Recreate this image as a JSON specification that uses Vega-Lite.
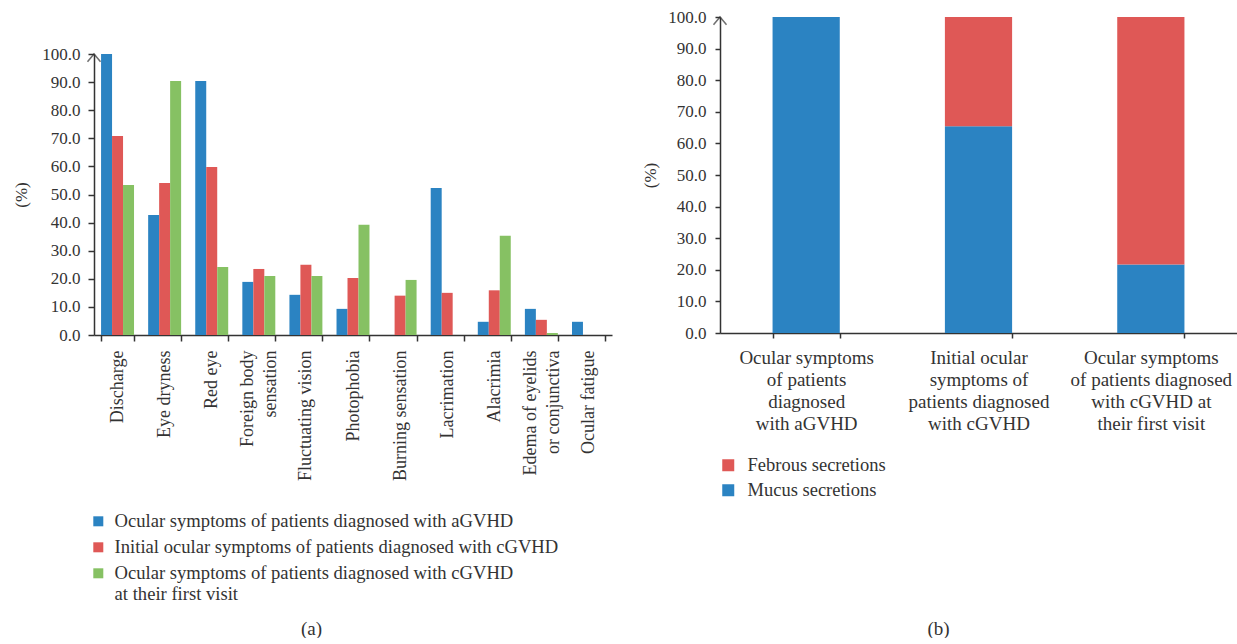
{
  "$schema": "https://vega.github.io/schema/vega-lite/v6.json",
  "autosize": {"type": "pad"},
  "padding": {"left": 12, "top": 8, "right": 0, "bottom": 0},
  "background": "white",
  "config": {
    "font": "Liberation Serif",
    "view": {"stroke": null},
    "axis": {
      "labelFont": "Liberation Serif",
      "titleFont": "Liberation Serif",
      "labelColor": "#333333",
      "titleColor": "#333333",
      "domainColor": "#333333",
      "tickColor": "#333333",
      "domainWidth": 1.5,
      "tickWidth": 1.5,
      "labelFontSize": 17,
      "titleFontSize": 17,
      "titleFontWeight": "normal",
      "labelOverlap": false,
      "grid": false
    },
    "legend": {
      "labelFont": "Liberation Serif",
      "labelColor": "#333333",
      "padding": 0,
      "offset": 0
    }
  },
  "resolve": {"scale": {"color": "independent"}, "legend": {"color": "independent"}},
  "spacing": 29,
  "hconcat": [
    {
      "bounds": "flush",
      "spacing": 0,
      "vconcat": [
        {
          "width": 518,
          "height": 37,
          "data": {"values": []},
          "mark": "text",
          "encoding": {}
        },
        {
          "width": 518,
          "height": 281,
          "data": {
            "values": [
              {"symptom": "Discharge", "group": "aGVHD", "value": 100},
              {"symptom": "Discharge", "group": "Initial cGVHD", "value": 70.8},
              {"symptom": "Discharge", "group": "cGVHD first visit", "value": 53.4},
              {"symptom": "Eye dryness", "group": "aGVHD", "value": 42.7},
              {"symptom": "Eye dryness", "group": "Initial cGVHD", "value": 54.1},
              {"symptom": "Eye dryness", "group": "cGVHD first visit", "value": 90.4},
              {"symptom": "Red eye", "group": "aGVHD", "value": 90.4},
              {"symptom": "Red eye", "group": "Initial cGVHD", "value": 59.8},
              {"symptom": "Red eye", "group": "cGVHD first visit", "value": 24.2},
              {"symptom": "Foreign body sensation", "group": "aGVHD", "value": 18.9},
              {"symptom": "Foreign body sensation", "group": "Initial cGVHD", "value": 23.5},
              {"symptom": "Foreign body sensation", "group": "cGVHD first visit", "value": 21.0},
              {"symptom": "Fluctuating vision", "group": "aGVHD", "value": 14.3},
              {"symptom": "Fluctuating vision", "group": "Initial cGVHD", "value": 25.0},
              {"symptom": "Fluctuating vision", "group": "cGVHD first visit", "value": 21.0},
              {"symptom": "Photophobia", "group": "aGVHD", "value": 9.3},
              {"symptom": "Photophobia", "group": "Initial cGVHD", "value": 20.3},
              {"symptom": "Photophobia", "group": "cGVHD first visit", "value": 39.2},
              {"symptom": "Burning sensation", "group": "aGVHD", "value": 0},
              {"symptom": "Burning sensation", "group": "Initial cGVHD", "value": 14.0},
              {"symptom": "Burning sensation", "group": "cGVHD first visit", "value": 19.6},
              {"symptom": "Lacrimation", "group": "aGVHD", "value": 52.3},
              {"symptom": "Lacrimation", "group": "Initial cGVHD", "value": 15.0},
              {"symptom": "Lacrimation", "group": "cGVHD first visit", "value": 0},
              {"symptom": "Alacrimia", "group": "aGVHD", "value": 4.7},
              {"symptom": "Alacrimia", "group": "Initial cGVHD", "value": 15.9},
              {"symptom": "Alacrimia", "group": "cGVHD first visit", "value": 35.3},
              {"symptom": "Edema of eyelids or conjunctiva", "group": "aGVHD", "value": 9.3},
              {"symptom": "Edema of eyelids or conjunctiva", "group": "Initial cGVHD", "value": 5.4},
              {"symptom": "Edema of eyelids or conjunctiva", "group": "cGVHD first visit", "value": 0.7},
              {"symptom": "Ocular fatigue", "group": "aGVHD", "value": 4.7},
              {"symptom": "Ocular fatigue", "group": "Initial cGVHD", "value": 0},
              {"symptom": "Ocular fatigue", "group": "cGVHD first visit", "value": 0}
            ]
          },
          "layer": [
            {
              "mark": {"type": "bar"},
              "encoding": {
                "x": {
                  "field": "symptom",
                  "type": "nominal",
                  "sort": ["Discharge", "Eye dryness", "Red eye", "Foreign body sensation", "Fluctuating vision", "Photophobia", "Burning sensation", "Lacrimation", "Alacrimia", "Edema of eyelids or conjunctiva", "Ocular fatigue"],
                  "scale": {"paddingInner": 0.3, "paddingOuter": 0.15},
                  "axis": {
                    "title": "(a)",
                    "titleX": 217,
                    "titleY": 293,
                    "titleAngle": 0,
                    "titleAlign": "center",
                    "titleBaseline": "middle",
                    "titleFontSize": 19,
                    "labelAngle": -90,
                    "labelFontSize": 18,
                    "labelLineHeight": 23,
                    "labelPadding": 9,
                    "labelOffset": {"condition": {"test": "datum.value == 'Foreign body sensation' || datum.value == 'Edema of eyelids or conjunctiva'", "value": -11}, "value": 0},
                    "tickSize": 6,
                    "tickBand": "extent",
                    "labelExpr": "datum.value == 'Foreign body sensation' ? ['Foreign body', 'sensation'] : datum.value == 'Edema of eyelids or conjunctiva' ? ['Edema of eyelids', 'or conjunctiva'] : datum.value"
                  }
                },
                "xOffset": {
                  "field": "group",
                  "type": "nominal",
                  "sort": ["aGVHD", "Initial cGVHD", "cGVHD first visit"],
                  "scale": {"paddingInner": 0, "paddingOuter": 0}
                },
                "y": {
                  "field": "value",
                  "type": "quantitative",
                  "scale": {"domain": [0, 100], "nice": false},
                  "axis": {
                    "title": "(%)",
                    "values": [0, 10, 20, 30, 40, 50, 60, 70, 80, 90, 100],
                    "format": ".1f",
                    "labelOverlap": false,
                    "tickSize": 6,
                    "labelPadding": 8,
                    "titlePadding": 11
                  }
                },
                "color": {
                  "field": "group",
                  "type": "nominal",
                  "scale": {
                    "domain": ["aGVHD", "Initial cGVHD", "cGVHD first visit"],
                    "range": ["#2B83C2", "#DF5856", "#86C163"]
                  },
                  "legend": {
                    "orient": "none",
                    "legendX": -5,
                    "legendY": 495,
                    "title": null,
                    "symbolType": "square",
                    "symbolSize": 100,
                    "symbolStrokeWidth": 0,
                    "symbolOffset": 0,
                    "labelOffset": 7,
                    "rowPadding": 7,
                    "labelLimit": 600,
                    "labelFontSize": 18.6,
                    "labelBaseline": "top",
                    "labelLineHeight": 21,
                    "encode": {"labels": {"update": {"dy": {"value": -9}}}},
                    "labelExpr": "datum.value == 'aGVHD' ? 'Ocular symptoms of patients diagnosed with aGVHD' : datum.value == 'Initial cGVHD' ? 'Initial ocular symptoms of patients diagnosed with cGVHD' : ['Ocular symptoms of patients diagnosed with cGVHD', 'at their first visit']"
                  }
                }
              }
            },
            {
              "data": {"values": [{"top": 100}]},
              "mark": {"type": "point", "shape": "M-1,1.2L0,0L1,1.2", "size": 169, "filled": false, "stroke": "#333333", "strokeWidth": 1.5},
              "encoding": {
                "x": {"value": 0},
                "y": {
                  "field": "top",
                  "type": "quantitative",
                  "axis": {
                    "title": "(%)",
                    "values": [0, 10, 20, 30, 40, 50, 60, 70, 80, 90, 100],
                    "format": ".1f",
                    "labelOverlap": false,
                    "tickSize": 6,
                    "labelPadding": 8,
                    "titlePadding": 11
                  }
                }
              }
            }
          ]
        }
      ]
    },
    {
      "width": 517,
      "height": 316,
      "data": {
        "values": [
          {"group": "Ocular symptoms of patients diagnosed with aGVHD", "type": "Mucus secretions", "value": 100},
          {"group": "Ocular symptoms of patients diagnosed with aGVHD", "type": "Febrous secretions", "value": 0},
          {"group": "Initial ocular symptoms of patients diagnosed with cGVHD", "type": "Mucus secretions", "value": 65.4},
          {"group": "Initial ocular symptoms of patients diagnosed with cGVHD", "type": "Febrous secretions", "value": 34.6},
          {"group": "Ocular symptoms of patients diagnosed with cGVHD at their first visit", "type": "Mucus secretions", "value": 21.7},
          {"group": "Ocular symptoms of patients diagnosed with cGVHD at their first visit", "type": "Febrous secretions", "value": 78.3}
        ]
      },
      "layer": [
        {
          "mark": {"type": "bar"},
          "encoding": {
            "x": {
              "field": "group",
              "type": "nominal",
              "sort": ["Ocular symptoms of patients diagnosed with aGVHD", "Initial ocular symptoms of patients diagnosed with cGVHD", "Ocular symptoms of patients diagnosed with cGVHD at their first visit"],
              "scale": {"paddingInner": 0.61, "paddingOuter": 0.305},
              "axis": {
                "title": "(b)",
                "titleX": 218,
                "titleY": 295,
                "titleAngle": 0,
                "titleAlign": "center",
                "titleBaseline": "middle",
                "titleFontSize": 19,
                "labelAngle": 0,
                "labelFontSize": 19,
                "labelLineHeight": 22,
                "labelPadding": 10,
                "tickSize": 5,
                "tickBand": "extent",
                "labelExpr": "datum.value == 'Ocular symptoms of patients diagnosed with aGVHD' ? ['Ocular symptoms', 'of patients', 'diagnosed', 'with aGVHD'] : datum.value == 'Initial ocular symptoms of patients diagnosed with cGVHD' ? ['Initial ocular', 'symptoms of', 'patients diagnosed', 'with cGVHD'] : datum.value == 'Ocular symptoms of patients diagnosed with cGVHD at their first visit' ? ['Ocular symptoms', 'of patients diagnosed', 'with cGVHD at', 'their first visit'] : ''"
              }
            },
            "y": {
              "field": "value",
              "type": "quantitative",
              "stack": "zero",
              "scale": {"domain": [0, 100], "nice": false},
              "axis": {
                "title": "(%)",
                "values": [0, 10, 20, 30, 40, 50, 60, 70, 80, 90, 100],
                "format": ".1f",
                "labelOverlap": false,
                "tickSize": 5,
                "labelPadding": 9,
                "titlePadding": 8
              }
            },
            "order": {"field": "type", "sort": "descending"},
            "color": {
              "field": "type",
              "type": "nominal",
              "scale": {
                "domain": ["Febrous secretions", "Mucus secretions"],
                "range": ["#DF5856", "#2B83C2"]
              },
              "legend": {
                "orient": "none",
                "legendX": -1,
                "legendY": 439,
                "title": null,
                "symbolType": "square",
                "symbolSize": 144,
                "symbolStrokeWidth": 0,
                "symbolOffset": 0,
                "labelOffset": 10,
                "rowPadding": 6,
                "labelFontSize": 18.5
              }
            }
          }
        },
        {
          "data": {"values": [{"top": 100}]},
          "mark": {"type": "point", "shape": "M-1,1.2L0,0L1,1.2", "size": 169, "filled": false, "stroke": "#333333", "strokeWidth": 1.5},
          "encoding": {
            "x": {"value": 0},
            "y": {
              "field": "top",
              "type": "quantitative",
              "axis": {
                "title": "(%)",
                "values": [0, 10, 20, 30, 40, 50, 60, 70, 80, 90, 100],
                "format": ".1f",
                "labelOverlap": false,
                "tickSize": 5,
                "labelPadding": 9,
                "titlePadding": 8
              }
            }
          }
        }
      ]
    }
  ]
}
